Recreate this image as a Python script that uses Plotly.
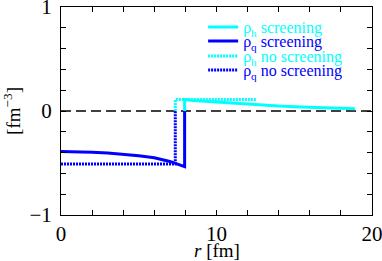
import plotly.graph_objects as go

# data
r_h_scr = [7.95, 7.95, 8.5, 9, 10, 11, 12, 13, 14, 15, 16, 17, 18, 18.9]
h_scr = [0.0, 0.11, 0.10, 0.095, 0.083, 0.072, 0.063, 0.055, 0.048, 0.042, 0.037, 0.032, 0.027, 0.022]
r_q_scr = [0, 1, 2, 3, 4, 5, 6, 7, 7.95, 7.95]
q_scr = [-0.39, -0.392, -0.397, -0.405, -0.415, -0.43, -0.45, -0.485, -0.535, 0.0]
r_h_no = [7.35, 7.35, 12.6]
h_no = [0.0, 0.11, 0.11]
r_q_no = [0, 7.0, 7.35, 7.35]
q_no = [-0.51, -0.51, -0.51, 0.0]

names = ["ρ<sub>h</sub> screening", "ρ<sub>q</sub> screening",
         "ρ<sub>h</sub> no screening", "ρ<sub>q</sub> no screening"]
CYAN = "#00ffff"
BLUE = "#0000ff"

fig = go.Figure()
series = [
    (r_h_scr, h_scr, CYAN, "solid", "legend"),
    (r_q_scr, q_scr, BLUE, "solid", "legend2"),
    (r_h_no, h_no, CYAN, "2px,1px", "legend3"),
    (r_q_no, q_no, BLUE, "2px,1px", "legend4"),
]
for (x, y, c, d, lg), nm in zip(series, names):
    fig.add_trace(go.Scatter(
        x=x, y=y, mode="lines",
        line=dict(color=c, width=3, dash=d),
        name=f"<span style='color:{c}'>{nm}</span>",
        legend=lg, showlegend=True))

fig.add_shape(type="line", xref="paper", yref="y", x0=0, x1=1, y0=0, y1=0,
              line=dict(color="black", width=1.5, dash="10px,5px"), layer="below")

FONT = "Liberation Serif, Times New Roman, serif"
leg_common = dict(x=0.457, xanchor="left", yanchor="top", bgcolor="rgba(0,0,0,0)",
                  font=dict(family=FONT, size=16), itemwidth=30,
                  borderwidth=0, tracegroupgap=0)
ys = [10, 24, 39, 53]
def py(p):
    return 1 - (p - 7) / 208

fig.add_annotation(text="<i>r</i> [fm]", xref="paper", yref="paper", x=0.5, y=0,
                   xanchor="center", yanchor="middle", yshift=-35, showarrow=False,
                   font=dict(family=FONT, size=19, color="black"))

fig.update_layout(
    width=382, height=261,
    margin=dict(l=61, r=10, t=7, b=46),
    paper_bgcolor="white", plot_bgcolor="white",
    font=dict(family=FONT, size=18, color="black"),
    legend=dict(y=py(ys[0]), **leg_common),
    legend2=dict(y=py(ys[1]), **leg_common),
    legend3=dict(y=py(ys[2]), **leg_common),
    legend4=dict(y=py(ys[3]), **leg_common),
    xaxis=dict(range=[0, 20], tickvals=[0, 10, 20], ticktext=["0", "10", "20"],
               ticks="inside", ticklen=5, tickcolor="black",
               minor=dict(dtick=2, ticks="inside", ticklen=5, tickcolor="black"),
               showline=True, linecolor="black", linewidth=1, mirror="allticks",
               showgrid=False, zeroline=False, automargin=False,
               ticklabeloverflow="allow", ticklabelstandoff=0,
               tickfont=dict(family=FONT, size=21)),
    yaxis=dict(range=[-1, 1], tickvals=[-1, 0, 1], ticktext=["−1", "0", "1"],
               ticks="inside", ticklen=5, tickcolor="black",
               minor=dict(dtick=0.2, ticks="inside", ticklen=5, tickcolor="black"),
               showline=True, linecolor="black", linewidth=1, mirror="allticks",
               showgrid=False, zeroline=False, automargin=False,
               ticklabeloverflow="allow",
               tickfont=dict(family=FONT, size=21), ticklabelstandoff=4,
               title=dict(text="[fm<sup>−3</sup>]", font=dict(family=FONT, size=19), standoff=4)),
)

fig.write_html("out.html", config={"displayModeBar": False},
               post_script="document.body.style.margin='0';")
